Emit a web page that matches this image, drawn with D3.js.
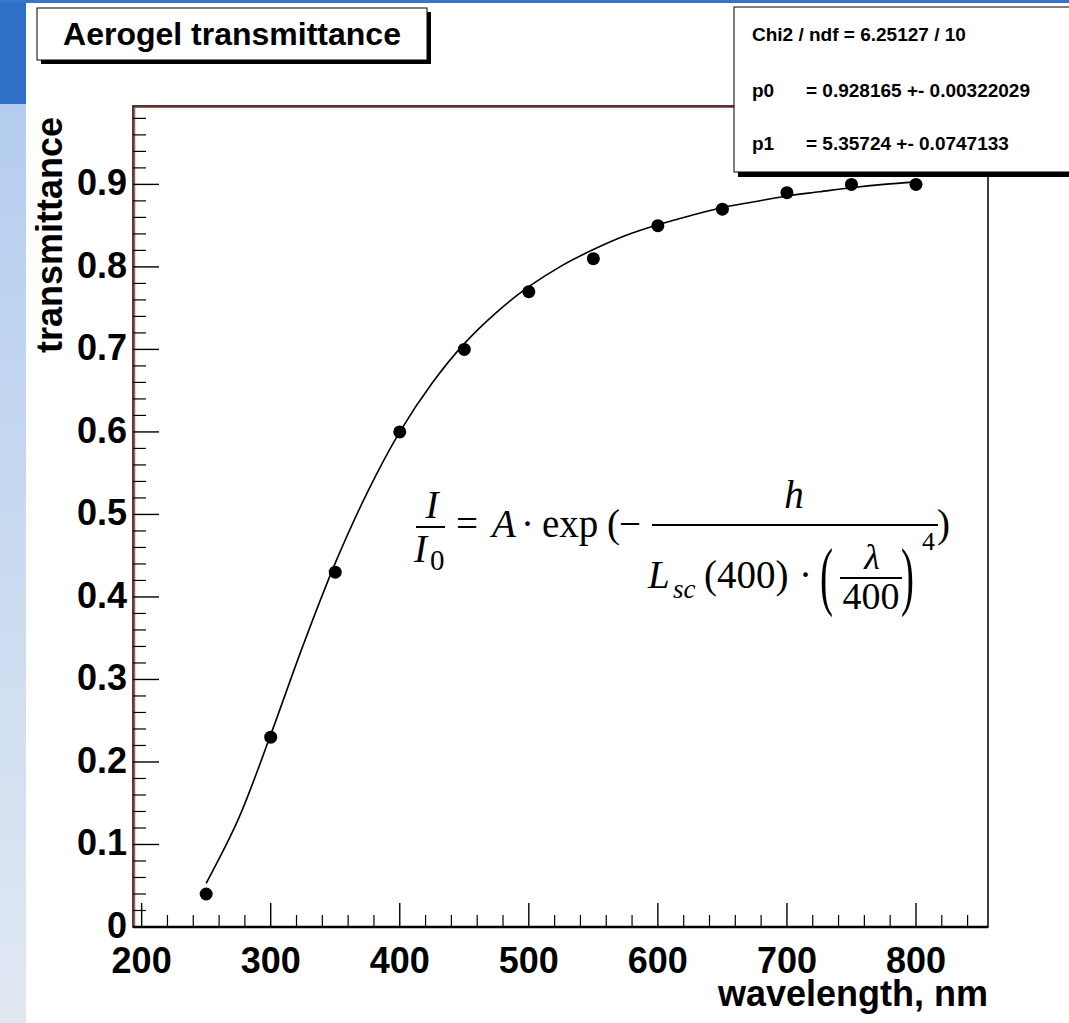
<!DOCTYPE html>
<html>
<head>
<meta charset="utf-8">
<script src="https://cdn.jsdelivr.net/npm/d3@7"></script>
<style>
  html, body { margin: 0; padding: 0; background: #fff; }
  svg { display: block; }
</style>
</head>
<body>
<div id="chart"></div>
<script>
// measured points
var wavelength = [250, 300, 350, 400, 450, 500, 550, 600, 650, 700, 750, 800];
var transmittance = [0.04, 0.23, 0.43, 0.60, 0.70, 0.77, 0.81, 0.85, 0.87, 0.89, 0.90, 0.90];

// fit curve
var fitWavelength = [250, 275, 300, 325, 350, 375, 400, 425, 450, 475, 500, 525, 550, 575, 600, 625, 650, 675, 700, 725, 750, 775, 800];
var fitValue = [0.053, 0.131, 0.233, 0.341, 0.441, 0.527, 0.600, 0.659, 0.707, 0.745, 0.776, 0.801, 0.821, 0.838, 0.851, 0.862, 0.872, 0.879, 0.886, 0.891, 0.896, 0.900, 0.903];

var xTickLabels = [200, 300, 400, 500, 600, 700, 800];
var yTickLabels = [0, 0.1, 0.2, 0.3, 0.4, 0.5, 0.6, 0.7, 0.8, 0.9];

var titleText = "Aerogel transmittance";
var statNames = ["p0", "p1"];
var statValues = ["= 0.928165 +- 0.00322029", "= 5.35724 +- 0.0747133"];
var chiText = "Chi2 / ndf = 6.25127 / 10";

var W = 1069, H = 1023;
var frame = { left: 133, right: 988, top: 106, bottom: 927 };
var sans = "'Liberation Sans', Arial, Helvetica, sans-serif";
var serif = "'Liberation Serif', 'Times New Roman', serif";

var svg = d3.select("#chart").append("svg")
  .attr("width", W)
  .attr("height", H);

// page decoration (blue strips)
var defs = svg.append("defs");
var grad = defs.append("linearGradient").attr("id", "side").attr("x1", 0).attr("y1", 0).attr("x2", 0).attr("y2", 1);
grad.append("stop").attr("offset", "0%").attr("stop-color", "#b4cdef");
grad.append("stop").attr("offset", "100%").attr("stop-color", "#e0e8f2");
svg.append("rect").attr("x", 0).attr("y", 104).attr("width", 26).attr("height", H - 104).attr("fill", "url(#side)");
svg.append("rect").attr("x", 0).attr("y", 0).attr("width", 26).attr("height", 104).attr("fill", "#2e70c8");
svg.append("rect").attr("x", 0).attr("y", 0).attr("width", W).attr("height", 3).attr("fill", "#3476cc");

var x = d3.scaleLinear().domain([193.3, 855.8]).range([frame.left, frame.right]);
var y = d3.scaleLinear().domain([0, 0.995]).range([frame.bottom, frame.top]);

var g = svg.append("g");

// frame
g.append("rect")
  .attr("x", frame.left).attr("y", frame.top)
  .attr("width", frame.right - frame.left).attr("height", frame.bottom - frame.top)
  .attr("fill", "none").attr("stroke", "#000").attr("stroke-width", 1.5);
g.append("line").attr("x1", frame.left + 1.5).attr("x2", frame.left + 1.5)
  .attr("y1", frame.top + 1).attr("y2", frame.bottom).attr("stroke", "#c0504d").attr("stroke-width", 1.5);
g.append("line").attr("x1", frame.left + 1).attr("x2", frame.right)
  .attr("y1", frame.top + 1.5).attr("y2", frame.top + 1.5).attr("stroke", "#c0504d").attr("stroke-width", 1.2);
g.append("line").attr("x1", frame.left).attr("x2", frame.right)
  .attr("y1", frame.bottom).attr("y2", frame.bottom).attr("stroke", "#000").attr("stroke-width", 2.5);

// x axis ticks
var xMinor = d3.range(200, 856, 20).filter(function(v) { return v % 100 != 0; });
g.selectAll(".xminor").data(xMinor).enter().append("line")
  .attr("x1", function(d) { return x(d); }).attr("x2", function(d) { return x(d); })
  .attr("y1", frame.bottom).attr("y2", frame.bottom - 12)
  .attr("stroke", "#000").attr("stroke-width", 1.2);
g.selectAll(".xmajor").data(xTickLabels).enter().append("line")
  .attr("x1", function(d) { return x(d); }).attr("x2", function(d) { return x(d); })
  .attr("y1", frame.bottom).attr("y2", frame.bottom - 24)
  .attr("stroke", "#000").attr("stroke-width", 1.4);
g.selectAll(".xlab").data(xTickLabels).enter().append("text")
  .attr("x", function(d) { return x(d); })
  .attr("y", 973)
  .attr("text-anchor", "middle")
  .style("font-family", sans).style("font-weight", "bold").style("font-size", "36px")
  .text(function(d) { return d; });

// y axis ticks
var yMinor = d3.range(0, 100, 2).map(function(v) { return v / 100; }).filter(function(v, i) { return i % 5 != 0; });
g.selectAll(".yminor").data(yMinor).enter().append("line")
  .attr("x1", frame.left).attr("x2", frame.left + 13)
  .attr("y1", function(d) { return y(d); }).attr("y2", function(d) { return y(d); })
  .attr("stroke", "#000").attr("stroke-width", 1.2);
g.selectAll(".ymajor").data(yTickLabels).enter().append("line")
  .attr("x1", frame.left).attr("x2", frame.left + 26)
  .attr("y1", function(d) { return y(d); }).attr("y2", function(d) { return y(d); })
  .attr("stroke", "#000").attr("stroke-width", 1.4);
g.selectAll(".ylab").data(yTickLabels).enter().append("text")
  .attr("x", frame.left - 6)
  .attr("y", function(d) { return y(d) + 11; })
  .attr("text-anchor", "end")
  .style("font-family", sans).style("font-weight", "bold").style("font-size", "36px")
  .text(function(d) { return d === 0 ? "0" : d3.format(".1f")(d); });

// axis titles
svg.append("text")
  .attr("x", frame.right).attr("y", 1006)
  .attr("text-anchor", "end")
  .style("font-family", sans).style("font-weight", "bold").style("font-size", "36px")
  .text("wavelength, nm");
svg.append("text")
  .attr("transform", "translate(62,117) rotate(-90)")
  .attr("text-anchor", "end")
  .style("font-family", sans).style("font-weight", "bold").style("font-size", "36px")
  .text("transmittance");

// fit curve
var line = d3.line()
  .x(function(d, i) { return x(fitWavelength[i]); })
  .y(function(d) { return y(d); })
  .curve(d3.curveCatmullRom);
g.append("path").datum(fitValue)
  .attr("d", line)
  .attr("fill", "none").attr("stroke", "#000").attr("stroke-width", 1.6);

// points
g.selectAll(".pt").data(transmittance).enter().append("circle")
  .attr("cx", function(d, i) { return x(wavelength[i]); })
  .attr("cy", function(d) { return y(d); })
  .attr("r", 6.5)
  .attr("fill", "#000");

// formula  I/I0 = A * exp(-h / (Lsc(400) * (lambda/400)^4))
var f = svg.append("g").style("font-family", serif).style("fill", "#000");
function mt(px, py, s, size, opts) {
  opts = opts || {};
  return f.append("text").attr("x", px).attr("y", py)
    .attr("text-anchor", opts.anchor || "start")
    .style("font-size", size + "px")
    .style("font-style", opts.italic ? "italic" : "normal")
    .text(s);
}
function bar(x1, x2, yy) {
  f.append("line").attr("x1", x1).attr("x2", x2).attr("y1", yy).attr("y2", yy)
    .attr("stroke", "#000").attr("stroke-width", 2);
}
function tallParen(px, py, s) {
  f.append("text")
    .attr("transform", "translate(" + px + "," + py + ") scale(1,1.95)")
    .style("font-size", "39px")
    .text(s);
}
mt(432, 518, "I", 39, { italic: true, anchor: "middle" });
bar(416, 445, 527);
mt(414, 562, "I", 39, { italic: true });
mt(430, 570, "0", 29);
mt(456, 537, "=", 39);
mt(492, 537, "A", 39, { italic: true });
mt(521, 537, "·", 39);
mt(542, 537, "exp", 39);
mt(607, 537, "(", 39);
mt(619, 537, "−", 39);
bar(652, 938, 525);
mt(794, 508, "h", 39, { italic: true, anchor: "middle" });
mt(648, 588, "L", 39, { italic: true });
mt(673, 598, "sc", 27, { italic: true });
mt(704, 588, "(400)", 39);
mt(799, 588, "·", 39);
tallParen(820, 601, "(");
mt(872, 569, "λ", 36, { italic: true, anchor: "middle" });
bar(840, 902, 578);
mt(871, 609, "400", 38, { anchor: "middle" });
tallParen(901, 601, ")");
mt(922, 550, "4", 26);
mt(937, 537, ")", 39);

// title box
svg.append("rect").attr("x", 41).attr("y", 12).attr("width", 390).attr("height", 52).attr("fill", "#000");
svg.append("rect").attr("x", 37).attr("y", 8).attr("width", 390).attr("height", 52)
  .attr("fill", "#fff").attr("stroke", "#000").attr("stroke-width", 1);
svg.append("text")
  .attr("x", 232).attr("y", 45)
  .attr("text-anchor", "middle")
  .style("font-family", sans).style("font-weight", "bold").style("font-size", "32px")
  .text(titleText);

// stats box
svg.append("rect").attr("x", 738).attr("y", 11).attr("width", 340).attr("height", 166).attr("fill", "#000");
svg.append("rect").attr("x", 734).attr("y", 7).attr("width", 345).attr("height", 165)
  .attr("fill", "#fff").attr("stroke", "#000").attr("stroke-width", 1);
var st = svg.append("g").style("font-family", sans).style("font-weight", "bold").style("font-size", "19px");
st.append("text").attr("x", 752).attr("y", 41).text(chiText);
st.selectAll(".sn").data(statNames).enter().append("text")
  .attr("x", 752).attr("y", function(d, i) { return 97 + i * 53; })
  .text(function(d) { return d; });
st.selectAll(".sv").data(statValues).enter().append("text")
  .attr("x", 806).attr("y", function(d, i) { return 97 + i * 53; })
  .text(function(d) { return d; });
</script>
</body>
</html>
